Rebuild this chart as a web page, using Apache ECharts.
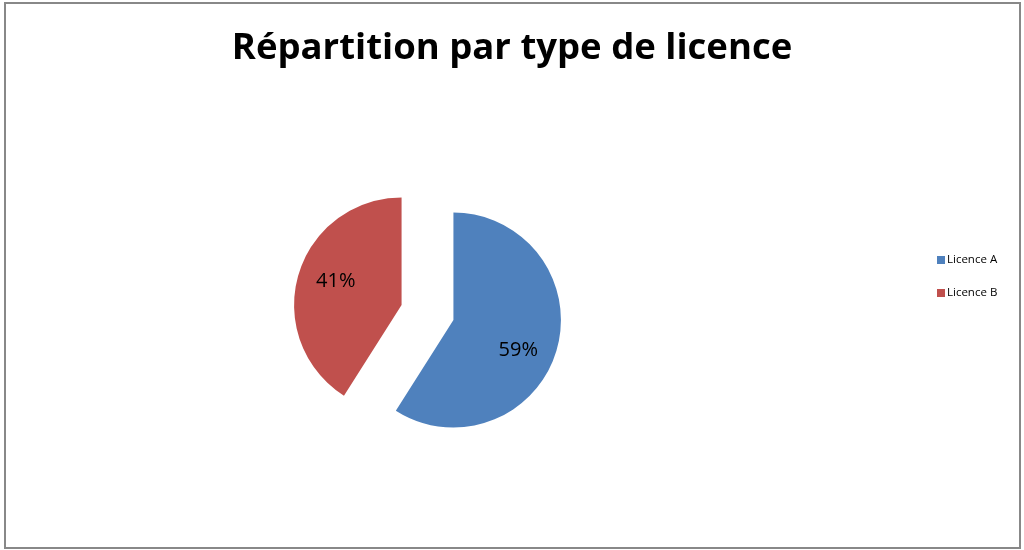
<!DOCTYPE html>
<html>
<head>
<meta charset="utf-8">
<script src="https://cdn.jsdelivr.net/npm/echarts@6/dist/echarts.min.js"></script>
<style>
html,body{margin:0;padding:0;background:#fff;}
#main{width:1024px;height:550px;}
</style>
</head>
<body>
<div id="main"></div>
<script>
// données
var categories = ['Licence A', 'Licence B'];
var values = [59, 41];
var colors = ['#4f81bd', '#c0504d'];

var pieData = categories.map(function (c, i) {
    return { name: c, value: values[i], selected: true, itemStyle: { color: colors[i] } };
});
var labelData = categories.map(function (c, i) {
    return { name: c, value: values[i], selected: true };
});

var myChart = echarts.init(document.getElementById('main'));
var option = {
    animation: false,
    backgroundColor: '#fff',
    title: {
        text: 'Répartition par type de licence',
        left: 'center',
        top: 25,
        textStyle: { fontFamily: 'Open Sans', fontWeight: 'bold', fontSize: 36.5, color: '#000' }
    },
    legend: {
        orient: 'vertical',
        left: 932,
        top: 249,
        itemWidth: 8,
        itemHeight: 8,
        itemGap: 21,
        icon: 'rect',
        data: categories,
        textStyle: { fontFamily: 'Open Sans', fontSize: 11.5, color: '#000', padding: [0, 0, 0, -3] }
    },
    graphic: [{
        type: 'rect',
        shape: { x: 5, y: 3, width: 1015, height: 545 },
        style: { fill: 'none', stroke: '#888', lineWidth: 2 },
        silent: true
    }],
    series: [{
        type: 'pie',
        center: [427.5, 312.5],
        radius: 107.5,
        startAngle: 90,
        selectedMode: 'multiple',
        selectedOffset: 27,
        label: { show: false },
        labelLine: { show: false },
        emphasis: { disabled: true },
        data: pieData
    }, {
        type: 'pie',
        center: [427.5, 312.5],
        radius: [36, 107.5],
        startAngle: 90,
        selectedMode: 'multiple',
        selectedOffset: 27,
        silent: true,
        itemStyle: { color: 'rgba(0,0,0,0)' },
        label: {
            show: true,
            position: 'inside',
            formatter: '{d}%',
            fontFamily: 'Open Sans',
            fontSize: 20,
            color: '#000'
        },
        labelLayout: function (p) {
            return p.dataIndex === 0 ? { dx: -7, dy: 9 } : { dx: 6, dy: -3 };
        },
        labelLine: { show: false },
        emphasis: { disabled: true },
        legendHoverLink: false,
        data: labelData
    }]
};
myChart.setOption(option);
</script>
</body>
</html>
